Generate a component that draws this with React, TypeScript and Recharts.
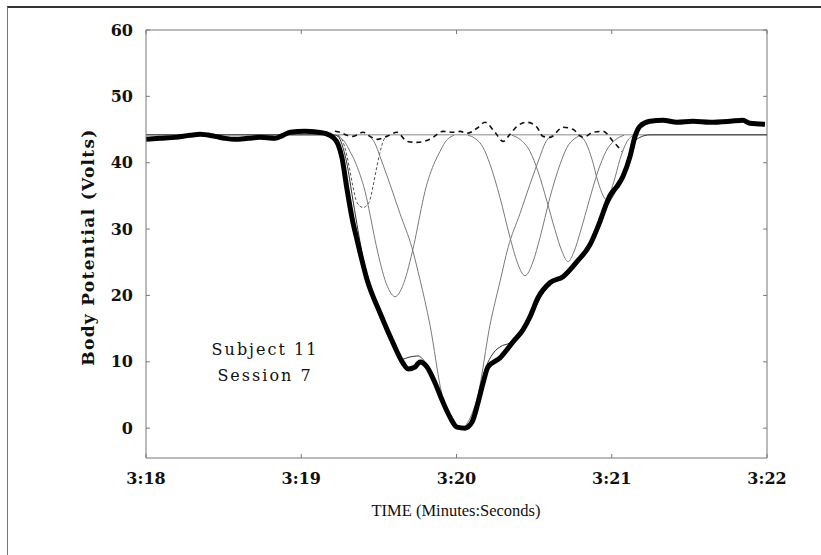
import { LineChart, Line, XAxis, YAxis, ReferenceLine } from 'recharts'

// seconds past 3:00, volts
const signalPts: [number, number][] = [
  [198.0, 43.52], [198.09, 43.67], [198.187, 43.82], [198.284, 44.13], [198.348, 44.28],
  [198.444, 43.97], [198.509, 43.67], [198.573, 43.52], [198.657, 43.67], [198.734, 43.82],
  [198.831, 43.67], [198.882, 44.13], [198.928, 44.58], [199.024, 44.73], [199.108, 44.58],
  [199.153, 44.43], [199.205, 43.82], [199.237, 42.77], [199.262, 40.8], [199.295, 35.97],
  [199.333, 30.98], [199.359, 28.41], [199.424, 22.37], [199.507, 17.38], [199.591, 12.85],
  [199.655, 9.82], [199.688, 8.92], [199.733, 9.22], [199.765, 9.97], [199.81, 9.22],
  [199.862, 6.8], [199.907, 4.23], [199.958, 1.66], [200.003, 0.15], [200.055, 0.0],
  [200.1, 0.91], [200.138, 3.78], [200.171, 6.8], [200.203, 9.22], [200.28, 10.58],
  [200.364, 13.0], [200.428, 14.81], [200.473, 16.77], [200.525, 19.65], [200.602, 21.91],
  [200.686, 22.82], [200.776, 25.09], [200.86, 27.66], [200.924, 31.13], [200.969, 34.0],
  [200.989, 35.06], [201.034, 36.42], [201.072, 37.93], [201.118, 40.96], [201.15, 43.97],
  [201.182, 45.49], [201.246, 46.24], [201.33, 46.4], [201.42, 46.09], [201.523, 46.24],
  [201.633, 46.09], [201.762, 46.24], [201.845, 46.4], [201.89, 45.94], [201.987, 45.79],
]

const fitPts: [number, number][] = [
  [198.0, 44.2], [199.205, 44.2], [199.237, 43.97], [199.262, 42.77], [199.295, 39.75],
  [199.327, 35.21], [199.359, 30.68], [199.411, 24.2], [199.475, 19.3], [199.539, 15.5],
  [199.604, 12.0], [199.649, 10.4], [199.7, 10.73], [199.752, 10.88], [199.797, 9.97],
  [199.849, 7.56], [199.907, 4.23], [199.958, 1.51], [200.003, 0.15], [200.042, 0.0],
  [200.087, 0.76], [200.138, 4.23], [200.184, 8.77], [200.229, 11.03], [200.28, 12.24],
  [200.345, 12.85], [200.409, 14.05], [200.473, 16.32], [200.525, 19.04], [200.602, 21.61],
  [200.686, 22.97], [200.776, 25.09], [200.86, 27.96], [200.924, 31.13], [200.976, 33.7],
  [201.021, 35.51], [201.066, 37.93], [201.105, 40.5], [201.137, 42.77], [201.182, 43.82],
  [201.246, 44.2], [202.0, 44.2],
]

const baselinePts: [number, number][] = [[198.0, 44.2], [202.0, 44.2]]

const dip1: [number, number][] = [
  [199.237, 44.13], [199.262, 43.52], [199.295, 40.96], [199.314, 38.69], [199.333, 36.42],
  [199.359, 34.0], [199.398, 33.25], [199.436, 34.0], [199.462, 36.42], [199.481, 38.69],
  [199.501, 40.96], [199.533, 43.52], [199.559, 44.13],
]

const dip2: [number, number][] = [
  [199.224, 44.13], [199.25, 43.82], [199.282, 43.07], [199.314, 41.71], [199.346, 40.2],
  [199.378, 38.23], [199.411, 35.67], [199.443, 32.19], [199.475, 28.41], [199.507, 25.09],
  [199.539, 22.37], [199.572, 20.55], [199.604, 19.8], [199.636, 20.55], [199.668, 22.37],
  [199.7, 25.09], [199.733, 28.41], [199.765, 32.19], [199.797, 35.67], [199.829, 38.23],
  [199.862, 40.2], [199.894, 41.71], [199.926, 43.07], [199.958, 43.82], [199.984, 44.13],
]

const dip3: [number, number][] = [
  [199.43, 44.13], [199.475, 42.92], [199.507, 40.96], [199.572, 36.72], [199.636, 32.34],
  [199.713, 27.2], [199.765, 22.37], [199.829, 15.57], [199.907, 4.99], [199.958, 1.51],
  [199.99, 0.3], [200.023, -0.15], [200.055, 0.3], [200.087, 1.51], [200.138, 4.99],
  [200.216, 15.57], [200.28, 22.06], [200.332, 27.2], [200.409, 32.34], [200.473, 36.72],
  [200.538, 40.96], [200.57, 42.92], [200.615, 44.13],
]

const dip4: [number, number][] = [
  [200.074, 44.13], [200.119, 43.67], [200.171, 42.32], [200.216, 39.75], [200.28, 34.76],
  [200.345, 28.71], [200.39, 25.09], [200.441, 22.97], [200.493, 25.09], [200.538, 28.71],
  [200.602, 34.76], [200.667, 39.75], [200.712, 42.32], [200.763, 43.67], [200.808, 44.13],
]

const dip5: [number, number][] = [
  [200.357, 44.13], [200.409, 43.52], [200.473, 41.71], [200.525, 38.69], [200.583, 34.15],
  [200.634, 29.92], [200.68, 26.6], [200.718, 25.09], [200.757, 26.6], [200.802, 29.92],
  [200.853, 34.15], [200.911, 38.69], [200.963, 41.71], [201.027, 43.52], [201.079, 44.13],
]

const dip6: [number, number][] = [
  [200.783, 44.13], [200.828, 43.22], [200.873, 40.5], [200.911, 37.18], [200.944, 35.06],
  [200.963, 34.46], [200.982, 35.06], [201.014, 37.18], [201.053, 40.5], [201.099, 43.22],
  [201.143, 44.13],
]

const residualPts: [number, number][] = [
  [199.217, 44.73], [199.25, 44.58], [199.295, 44.13], [199.333, 43.97], [199.398, 44.58],
  [199.443, 43.97], [199.488, 43.52], [199.552, 43.97], [199.617, 44.58], [199.681, 43.22],
  [199.746, 43.07], [199.829, 43.52], [199.913, 44.73], [199.977, 44.58], [200.023, 44.73],
  [200.068, 44.43], [200.132, 45.19], [200.184, 46.09], [200.248, 44.58], [200.3, 43.22],
  [200.345, 44.28], [200.39, 45.49], [200.454, 46.09], [200.518, 45.34], [200.557, 43.97],
  [200.602, 43.82], [200.686, 45.34], [200.75, 45.03], [200.815, 43.82], [200.879, 44.58],
  [200.944, 44.73], [201.008, 43.22], [201.066, 41.71],
]

const xTicks = [198, 199, 200, 201, 202]
const xTickLabels = ['3:18', '3:19', '3:20', '3:21', '3:22']
const yTicks = [0, 10, 20, 30, 40, 50, 60]

const toPts = (arr: [number, number][]) => arr.map(([t, v]) => ({ t, v }))

const boldSerif = '"DejaVu Serif", serif'
const FRAME = '#777'

const YTick = ({ x, y, payload }: any) => (
  <text x={x} y={y} textAnchor="end" dominantBaseline="central"
    fontFamily={boldSerif} fontWeight="bold" fontSize={16} fill="#111">
    {payload.value}
  </text>
)

const XTick = ({ x, y, payload }: any) => (
  <text x={x} y={y} textAnchor="middle" dominantBaseline="central"
    fontFamily={boldSerif} fontWeight="bold" fontSize={16} fill="#111">
    {xTickLabels[xTicks.indexOf(payload.value)]}
  </text>
)

const thin = { stroke: '#7a7a7a', strokeWidth: 1, dot: false, activeDot: false, isAnimationActive: false, type: 'monotone' as const }

export default function App() {
  return (
    <div style={{ position: 'absolute', left: 0, top: 0, width: 821, height: 555, background: '#fff', overflow: 'hidden' }}>
      <div style={{
        position: 'absolute', left: 7, top: 6, width: 814, height: 549,
        borderTop: '2px solid #333', borderLeft: '1px solid #777', boxSizing: 'border-box',
      }} />
      <div style={{ position: 'absolute', left: 0, top: 0 }}>
        <LineChart width={821} height={555} margin={{ top: 30, right: 54, bottom: 57, left: 86 }}>
          <XAxis
            type="number" dataKey="t" domain={[198, 202]} ticks={xTicks}
            allowDataOverflow height={40} tickSize={0} tickMargin={20} tickLine={false}
            axisLine={{ stroke: FRAME }} tick={<XTick />}
            label={() => (
              <text x={456} y={510} textAnchor="middle" dominantBaseline="central"
                fontFamily='"Liberation Serif", serif' fontSize={16.5} fill="#111">
                TIME (Minutes:Seconds)
              </text>
            )}
          />
          <YAxis
            type="number" domain={[-4.5, 60]} ticks={yTicks} allowDataOverflow
            width={60} tickSize={0} tickMargin={13} tickLine={false}
            axisLine={{ stroke: FRAME }} tick={<YTick />}
            label={() => (
              <text x={88} y={247} transform="rotate(-90 88 247)" textAnchor="middle"
                dominantBaseline="central" fontFamily={boldSerif} fontWeight="bold"
                fontSize={17} letterSpacing={1.3} fill="#111">
                Body Potential (Volts)
              </text>
            )}
          />

          <ReferenceLine x={202} stroke={FRAME} />
          <ReferenceLine y={60} stroke={FRAME} />
          {yTicks.map(v => (
            <ReferenceLine key={'l' + v} segment={[{ x: 198, y: v }, { x: 198.025, y: v }]} stroke={FRAME} />
          ))}
          {yTicks.map(v => (
            <ReferenceLine key={'r' + v} segment={[{ x: 201.975, y: v }, { x: 202, y: v }]} stroke={FRAME} />
          ))}
          {xTicks.map(t => (
            <ReferenceLine key={'b' + t} segment={[{ x: t, y: -4.5 }, { x: t, y: -3.9 }]} stroke={FRAME} />
          ))}
          {xTicks.map(t => (
            <ReferenceLine key={'t' + t} segment={[{ x: t, y: 60 }, { x: t, y: 59.4 }]} stroke={FRAME} />
          ))}

          <Line data={toPts(baselinePts)} dataKey="v" {...thin} type="linear" stroke="#888" />
          <Line data={toPts(dip1)} dataKey="v" {...thin} stroke="#555" strokeDasharray="3 2" />
          <Line data={toPts(dip2)} dataKey="v" {...thin} />
          <Line data={toPts(dip3)} dataKey="v" {...thin} />
          <Line data={toPts(dip4)} dataKey="v" {...thin} />
          <Line data={toPts(dip5)} dataKey="v" {...thin} />
          <Line data={toPts(dip6)} dataKey="v" {...thin} />
          <Line data={toPts(residualPts)} dataKey="v" {...thin} stroke="#111" strokeWidth={1.6} strokeDasharray="5 4" />
          <Line data={toPts(fitPts)} dataKey="v" {...thin} stroke="#333" />
          <Line data={toPts(signalPts)} dataKey="v" type="monotone" stroke="#000" strokeWidth={5}
            strokeLinejoin="round" dot={false} activeDot={false} isAnimationActive={false} />
        </LineChart>
      </div>
      <div style={{
        position: 'absolute', left: 190, top: 337, width: 150, textAlign: 'center',
        fontFamily: '"DejaVu Serif", serif', fontSize: 16, lineHeight: '26px', letterSpacing: 2, color: '#111',
      }}>
        <div>Subject 11</div>
        <div>Session 7</div>
      </div>
    </div>
  )
}
